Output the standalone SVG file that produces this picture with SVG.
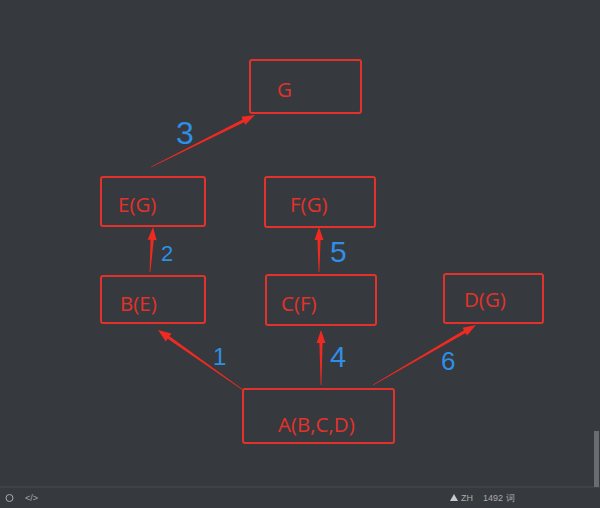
<svg xmlns="http://www.w3.org/2000/svg" width="600" height="508" viewBox="0 0 600 508">
<style>
.box{fill:none;stroke:#e3322b;stroke-width:2}
.lbl{font-family:"Open Sans","Noto Sans",sans-serif;font-size:20.5px;fill:#e3322b}
.num{font-family:"Liberation Sans",sans-serif;fill:#2f8fe6}
.arr{fill:#ee2a22}
.ui{font-family:"Liberation Sans",sans-serif;font-size:9px;fill:#a9abad}
</style>
<rect width="600" height="508" fill="#36393d"/>
<g id="node-G"><rect class="box" x="250" y="60" width="111" height="53" rx="2"/><text class="lbl" x="277" y="97">G</text></g>
<g id="node-E"><rect class="box" x="101" y="177" width="104" height="49" rx="2"/><text class="lbl" x="118" y="212">E(G)</text></g>
<g id="node-F"><rect class="box" x="265" y="177" width="110" height="50" rx="2"/><text class="lbl" x="290" y="212">F(G)</text></g>
<g id="node-B"><rect class="box" x="101" y="276" width="104" height="47" rx="2"/><text class="lbl" x="120" y="311">B(E)</text></g>
<g id="node-C"><rect class="box" x="266" y="275" width="110" height="50" rx="2"/><text class="lbl" x="281" y="311">C(F)</text></g>
<g id="node-D"><rect class="box" x="444" y="274" width="99" height="49" rx="2"/><text class="lbl" x="464" y="307">D(G)</text></g>
<g id="node-A"><rect class="box" x="243" y="389" width="151" height="54" rx="2"/><text class="lbl" x="278" y="432">A(B,C,D)</text></g>
<g id="connectors">
<polygon class="arr" points="243.23,389.67 169.54,336.19 171.5,333.42 158,330 165.74,341.59 167.7,338.81 242.77,390.33"/>
<polygon class="arr" points="321.4,385 322.6,343 325.5,343 321,330 316.5,343 319.4,343 320.6,385"/>
<polygon class="arr" points="373.2,385.35 465.57,332.92 467.03,335.43 476,325 462.51,327.65 463.97,330.16 372.8,384.65"/>
<polygon class="arr" points="150.4,272.03 153.74,240.08 156.63,240.27 153,227 147.65,239.67 150.54,239.86 149.6,271.97"/>
<polygon class="arr" points="319.4,272 320.6,240 323.5,240 319,227 314.5,240 317.4,240 318.6,272"/>
<polygon class="arr" points="151.18,167.36 244.1,122.24 245.39,124.83 255,115 241.37,116.79 242.66,119.38 150.82,166.64"/>
</g>
<g id="numbers">
<text class="num" x="176" y="144" font-size="32">3</text>
<text class="num" x="161" y="261" font-size="22">2</text>
<text class="num" x="330" y="262" font-size="30">5</text>
<text class="num" x="213" y="365" font-size="24">1</text>
<text class="num" x="330" y="367" font-size="29">4</text>
<text class="num" x="441" y="370" font-size="26">6</text>
</g>
<g id="statusbar">
<line x1="0" y1="487" x2="600" y2="487" stroke="#4a4d51" stroke-width="1"/>
<rect x="594" y="431" width="5" height="56" fill="#6a6d70"/>
<circle cx="9.5" cy="498" r="3.5" fill="none" stroke="#a9abad" stroke-width="1"/>
<text class="ui" x="25" y="501">&lt;/&gt;</text>
<polygon points="454,494 458,501 450,501" fill="#c8c9ca"/>
<text class="ui" x="461" y="501">ZH</text>
<text class="ui" x="483" y="501">1492 词</text>
</g>
</svg>
